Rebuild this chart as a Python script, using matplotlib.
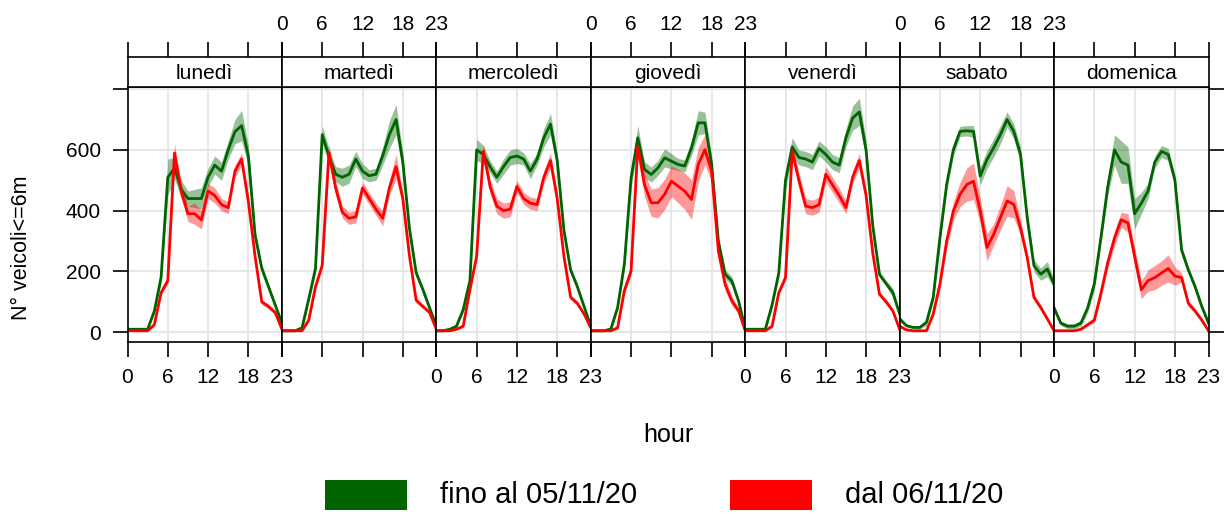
import numpy as np
import matplotlib
matplotlib.use("Agg")
import matplotlib.pyplot as plt
from matplotlib.patches import Rectangle

plt.rcParams['font.family'] = ['Liberation Sans', 'DejaVu Sans']

days = ["lunedì", "martedì", "mercoledì", "giovedì", "venerdì", "sabato", "domenica"]
hours = list(range(24))
series_names = ["fino al 05/11/20", "dal 06/11/20"]

# mean vehicles per hour, before 06/11/20
before = {
    "lunedì":    [10, 10, 10, 10, 70, 180, 510, 540, 470, 440, 440, 440, 510, 550, 530, 600, 660, 680, 580, 320, 210, 150, 90, 30],
    "martedì":   [5, 5, 5, 15, 110, 210, 650, 580, 520, 510, 520, 570, 530, 515, 520, 580, 650, 700, 560, 340, 195, 140, 80, 20],
    "mercoledì": [5, 5, 10, 20, 75, 170, 600, 585, 545, 510, 545, 575, 580, 570, 530, 570, 640, 685, 565, 335, 205, 150, 85, 20],
    "giovedì":   [5, 5, 5, 11, 82, 224, 508, 640, 536, 519, 541, 574, 563, 552, 547, 607, 689, 689, 552, 300, 191, 169, 104, 11],
    "venerdì":   [10, 10, 10, 10, 90, 195, 500, 610, 575, 570, 560, 605, 585, 560, 550, 640, 705, 725, 600, 350, 190, 160, 130, 60],
    "sabato":    [44, 22, 16, 16, 33, 115, 311, 486, 601, 661, 663, 661, 514, 568, 607, 650, 700, 661, 585, 377, 219, 191, 208, 158],
    "domenica":  [80, 30, 20, 20, 30, 80, 160, 315, 480, 600, 560, 550, 390, 425, 465, 560, 595, 585, 500, 270, 205, 150, 85, 30],
}
before_ci = {
    "lunedì":    [3, 3, 3, 3, 8, 15, 60, 35, 30, 25, 30, 35, 30, 30, 30, 30, 40, 50, 35, 20, 15, 10, 8, 5],
    "martedì":   [3, 3, 3, 5, 10, 15, 30, 25, 25, 30, 30, 25, 25, 20, 20, 30, 45, 50, 30, 15, 10, 10, 8, 5],
    "mercoledì": [3, 3, 3, 5, 10, 15, 35, 30, 20, 20, 25, 25, 25, 20, 25, 20, 30, 35, 25, 15, 10, 10, 8, 5],
    "giovedì":   [3, 3, 3, 5, 10, 15, 30, 40, 25, 25, 25, 30, 25, 20, 20, 25, 40, 35, 30, 15, 15, 15, 10, 5],
    "venerdì":   [3, 3, 3, 3, 10, 15, 30, 30, 25, 25, 25, 25, 25, 25, 25, 30, 40, 45, 30, 15, 10, 10, 15, 8],
    "sabato":    [8, 5, 3, 5, 10, 15, 20, 20, 20, 17, 17, 20, 30, 30, 30, 30, 25, 25, 25, 20, 20, 20, 25, 15],
    "domenica":  [10, 8, 8, 8, 10, 15, 20, 20, 30, 50, 70, 60, 50, 35, 25, 20, 20, 20, 20, 15, 10, 10, 10, 10],
}

# mean vehicles per hour, from 06/11/20
after = {
    "lunedì":    [5, 5, 5, 5, 25, 130, 170, 590, 465, 390, 390, 370, 465, 450, 420, 410, 530, 570, 430, 250, 100, 85, 65, 10],
    "martedì":   [5, 5, 5, 5, 40, 150, 220, 590, 475, 395, 375, 380, 475, 440, 405, 375, 475, 545, 440, 250, 105, 85, 65, 10],
    "mercoledì": [5, 5, 5, 10, 20, 140, 250, 595, 480, 415, 400, 405, 480, 440, 425, 420, 510, 565, 440, 250, 115, 95, 60, 15],
    "giovedì":   [5, 5, 5, 5, 15, 137, 202, 612, 486, 426, 426, 454, 497, 481, 464, 437, 552, 601, 530, 268, 158, 104, 71, 5],
    "venerdì":   [5, 5, 5, 5, 20, 130, 180, 595, 500, 415, 410, 420, 520, 485, 450, 410, 510, 565, 450, 260, 125, 100, 70, 10],
    "sabato":    [20, 8, 5, 5, 5, 60, 158, 300, 399, 454, 486, 497, 400, 279, 322, 377, 432, 421, 344, 246, 115, 82, 44, 5],
    "domenica":  [5, 5, 5, 5, 10, 25, 40, 130, 230, 310, 370, 360, 250, 140, 170, 180, 195, 210, 185, 180, 95, 70, 40, 5],
}
after_ci = {
    "lunedì":    [2, 2, 2, 2, 5, 8, 10, 30, 25, 25, 35, 30, 25, 25, 20, 20, 20, 20, 20, 10, 8, 8, 6, 3],
    "martedì":   [2, 2, 2, 2, 5, 8, 10, 30, 25, 20, 20, 20, 20, 20, 20, 25, 25, 40, 20, 10, 8, 8, 6, 3],
    "mercoledì": [2, 2, 2, 2, 5, 8, 10, 25, 25, 25, 25, 25, 20, 20, 20, 20, 20, 25, 20, 10, 8, 8, 6, 3],
    "giovedì":   [2, 2, 2, 2, 5, 10, 15, 35, 40, 45, 50, 50, 50, 55, 60, 65, 55, 50, 35, 25, 20, 15, 10, 3],
    "venerdì":   [2, 2, 2, 2, 5, 8, 10, 25, 25, 25, 25, 25, 25, 25, 25, 20, 20, 25, 20, 10, 8, 8, 6, 3],
    "sabato":    [3, 2, 2, 2, 3, 8, 15, 25, 30, 40, 55, 60, 40, 45, 35, 40, 50, 45, 25, 15, 10, 8, 6, 3],
    "domenica":  [2, 2, 2, 2, 3, 5, 8, 15, 20, 25, 25, 30, 30, 30, 35, 40, 40, 45, 30, 15, 10, 8, 6, 3],
}

GREEN = "#006400"
RED = "#FF0000"
xticks = [0, 6, 12, 18, 23]
yticks = [0, 200, 400, 600, 800]

fig = plt.figure(figsize=(12.28, 5.14), dpi=100)

left, right = 127.5 / 1228, 1208.5 / 1228
pw = (right - left) / 7
pb = 1 - 341.7 / 514
ph = (341.7 - 87.3) / 514
sh = (87.3 - 57.3) / 514

for i, day in enumerate(days):
    x0 = left + i * pw
    ax = fig.add_axes([x0, pb, pw, ph])
    st = fig.add_axes([x0, pb + ph, pw, sh])

    # grid
    for v in [6, 12, 18]:
        ax.axvline(v, color="#e3e3e3", lw=1.2, zorder=0)
    for v in [0, 200, 400, 600, 800]:
        ax.axhline(v, color="#e3e3e3", lw=1.2, zorder=0)

    h = np.array(hours)
    for data, ci, col in [(before, before_ci, GREEN), (after, after_ci, RED)]:
        m = np.array(data[day], dtype=float)
        e = np.array(ci[day], dtype=float)
        ax.fill_between(h, m - e, m + e, color=col, alpha=0.4, lw=0, zorder=1)
        ax.plot(h, m, color=col, lw=2.0, zorder=2)

    ax.set_xlim(0, 23)
    ax.set_ylim(-31, 806)
    ax.set_xticks(xticks)
    ax.set_yticks(yticks)
    ax.tick_params(direction="out", length=11, width=1.2, labelsize=15, pad=8)
    if i % 2 == 0:
        ax.set_xticklabels([str(t) for t in xticks])
    else:
        ax.set_xticklabels([])
    if i == 0:
        ax.set_yticklabels(["0", "200", "400", "600", ""])
    else:
        ax.tick_params(axis="y", left=False, labelleft=False)
    if i == 6:
        ax.tick_params(axis="y", right=True, labelright=False)
    for s in ax.spines.values():
        s.set_linewidth(1.2)

    # strip with the day name; top ticks sit above it
    st.set_xlim(0, 23)
    st.set_ylim(0, 1)
    st.set_yticks([])
    st.set_xticks(xticks)
    st.tick_params(axis="x", bottom=False, labelbottom=False, top=True,
                   direction="out", length=11, width=1.2, labelsize=15, pad=6)
    if i % 2 == 1:
        st.set_xticklabels([str(t) for t in xticks])
        st.tick_params(axis="x", labeltop=True)
    else:
        st.tick_params(axis="x", labeltop=False)
    for s in st.spines.values():
        s.set_linewidth(1.2)
    st.text(0.5, 0.45, day, transform=st.transAxes, ha="center", va="center", fontsize=15)

fig.text(22 / 1228, 1 - 248 / 514, "N° veicoli<=6m", rotation=90,
         ha="center", va="center", fontsize=15.5)
fig.text(668 / 1228, 1 - 435 / 514, "hour", ha="center", va="center", fontsize=18)

# legend keys
for name, col, rx, tx in [(series_names[0], GREEN, 325, 440), (series_names[1], RED, 730, 845)]:
    fig.add_artist(Rectangle((rx / 1228, 1 - 510 / 514), 82 / 1228, 30 / 514,
                             transform=fig.transFigure, facecolor=col, edgecolor="none"))
    fig.text(tx / 1228, 1 - 495 / 514, name, ha="left", va="center", fontsize=21)

fig.savefig("out.png", dpi=100)
